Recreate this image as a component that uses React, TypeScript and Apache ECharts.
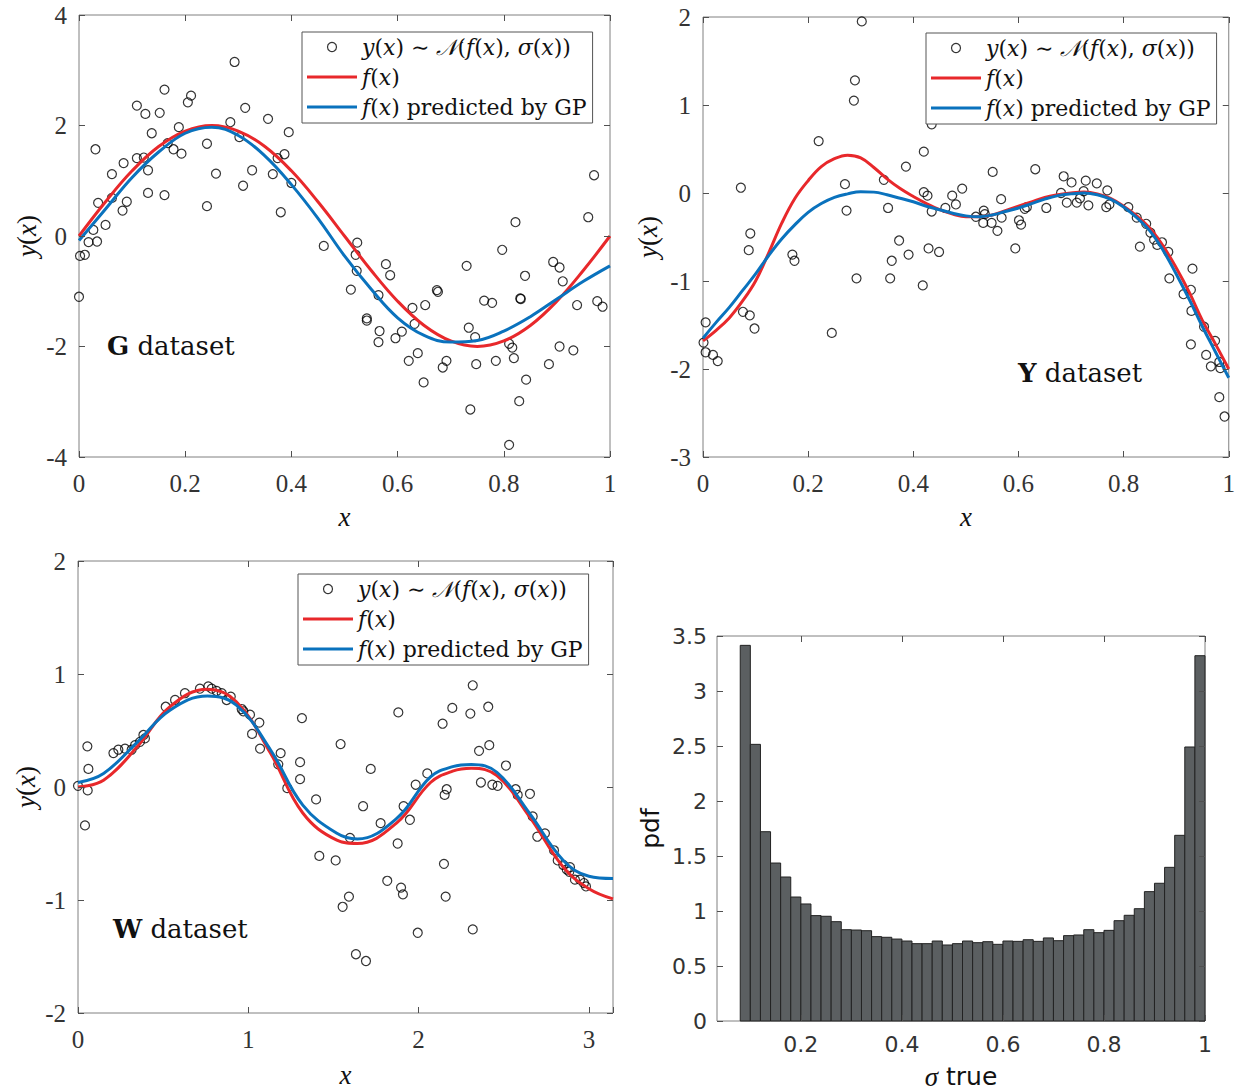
import React, { useEffect, useRef } from "react";
import * as echarts from "echarts";

// ---------------- G dataset ----------------
const G_X = [0.002, 0.011, 0.018, 0.034, 0.027, 0.05, 0.036, 0.031, 0.062, 0.082, 0.09, 0.062, 0.084, 0.109, 0.122, 0.13, 0.13, 0.161, 0.137, 0.109, 0.125, 0.152, 0.161, 0.167, 0.178, 0.193, 0.188, 0.205, 0.211, 0.241, 0.241, 0.258, 0.293, 0.285, 0.302, 0.309, 0.326, 0.313, 0.356, 0.365, 0.374, 0.387, 0.395, 0.38, 0.4, 0.461, 0.0,
  0.524, 0.521, 0.523, 0.512, 0.564, 0.578, 0.586, 0.542, 0.542, 0.566, 0.564, 0.596, 0.608, 0.628, 0.652, 0.632, 0.621, 0.638, 0.649, 0.674, 0.676, 0.685, 0.692, 0.73, 0.734, 0.746, 0.748, 0.737, 0.763, 0.778, 0.785, 0.797, 0.822, 0.81, 0.816, 0.819, 0.81, 0.831, 0.832, 0.84, 0.842, 0.829, 0.893, 0.905, 0.911, 0.885, 0.905, 0.931, 0.938, 0.959, 0.976, 0.986, 0.97];
const G_Y = [-0.36, -0.34, -0.11, -0.1, 0.11, 0.2, 0.6, 1.57, 0.69, 0.46, 0.62, 1.12, 1.32, 1.41, 1.42, 1.19, 0.78, 0.74, 1.86, 2.36, 2.21, 2.23, 2.65, 1.68, 1.57, 1.49, 1.97, 2.42, 2.54, 1.67, 0.54, 1.13, 3.15, 2.06, 1.79, 0.91, 1.19, 2.32, 2.12, 1.12, 1.41, 1.48, 1.88, 0.43, 0.96, -0.18, -1.1,
  -0.12, -0.34, -0.63, -0.97, -1.07, -0.51, -0.71, -1.49, -1.53, -1.72, -1.92, -1.85, -1.73, -1.3, -1.25, -1.59, -2.26, -2.12, -2.65, -0.98, -1.01, -2.38, -2.26, -0.54, -1.66, -1.83, -2.32, -3.14, -1.17, -1.21, -2.26, -0.25, 0.25, -1.95, -2.02, -2.21, -3.78, -1.13, -1.14, -0.72, -2.6, -2.99, -0.47, -0.57, -0.82, -2.32, -2.0, -2.07, -1.25, 0.34, -1.18, -1.28, 1.1];
const G_CURVE_X = [0, 0.05, 0.1, 0.15, 0.2, 0.25, 0.3, 0.35, 0.4, 0.45, 0.5, 0.55, 0.6, 0.65, 0.7, 0.75, 0.8, 0.85, 0.9, 0.95, 1.0];
const G_TRUE = [0, 0.62, 1.18, 1.62, 1.9, 2.0, 1.9, 1.62, 1.18, 0.62, 0, -0.62, -1.18, -1.62, -1.9, -2.0, -1.9, -1.62, -1.18, -0.62, 0];
const G_GP = [-0.08, 0.49, 1.06, 1.52, 1.86, 1.97, 1.82, 1.45, 0.93, 0.32, -0.36, -0.96, -1.48, -1.8, -1.92, -1.89, -1.72, -1.46, -1.14, -0.82, -0.54];

// ---------------- Y dataset ----------------
const Y_X = [0.001, 0.005, 0.005, 0.019, 0.028, 0.072, 0.09, 0.087, 0.076, 0.089, 0.098, 0.17, 0.174, 0.22, 0.245, 0.27, 0.273, 0.289, 0.287, 0.302, 0.292, 0.344, 0.352, 0.373, 0.359, 0.356, 0.391, 0.386, 0.42, 0.418, 0.429, 0.449, 0.42, 0.427, 0.435, 0.461, 0.474, 0.481, 0.493, 0.435,
  0.519, 0.534, 0.536, 0.533, 0.549, 0.56, 0.551, 0.567, 0.568, 0.594, 0.601, 0.605, 0.612, 0.616, 0.632, 0.653, 0.686, 0.701, 0.692, 0.681, 0.711, 0.717, 0.724, 0.728, 0.733, 0.749, 0.769, 0.767, 0.773, 0.809, 0.825, 0.843, 0.831, 0.851, 0.858, 0.864, 0.873, 0.885, 0.887, 0.931, 0.914, 0.928, 0.929, 0.953, 0.974, 0.928, 0.957, 0.966, 0.984, 0.982, 0.992, 0.982];
const Y_Y = [-1.7, -1.47, -1.81, -1.84, -1.91, 0.06, -0.46, -0.65, -1.35, -1.39, -1.54, -0.7, -0.77, 0.59, -1.59, 0.1, -0.2, 1.28, 1.05, 1.95, -0.97, 0.15, -0.17, -0.54, -0.77, -0.97, -0.7, 0.3, 0.47, -1.05, -0.63, -0.67, 0.01, -0.03, -0.21, -0.17, -0.03, -0.13, 0.05, 0.78,
  -0.27, -0.2, -0.24, -0.34, -0.34, -0.43, 0.24, -0.07, -0.28, -0.63, -0.31, -0.36, -0.18, -0.16, 0.27, -0.17, 0.19, 0.12, -0.11, 0.0, -0.11, -0.06, 0.02, 0.14, -0.14, 0.11, 0.03, -0.16, -0.13, -0.16, -0.28, -0.35, -0.61, -0.45, -0.53, -0.59, -0.56, -0.67, -0.97, -0.86, -1.15, -1.1, -1.34, -1.52, -1.68, -1.72, -1.84, -1.97, -1.99, -2.32, -2.54, -1.92];
const Y_CURVE_X = [0, 0.025, 0.05, 0.075, 0.1, 0.125, 0.15, 0.175, 0.2, 0.225, 0.25, 0.275, 0.3, 0.325, 0.35, 0.375, 0.4, 0.425, 0.45, 0.475, 0.5, 0.525, 0.55, 0.575, 0.6, 0.625, 0.65, 0.675, 0.7, 0.725, 0.75, 0.775, 0.8, 0.825, 0.85, 0.875, 0.9, 0.925, 0.95, 0.975, 1.0];
const Y_TRUE = [-1.68, -1.56, -1.42, -1.23, -1.0, -0.68, -0.34, -0.06, 0.14, 0.3, 0.39, 0.43, 0.4, 0.29, 0.16, 0.05, -0.04, -0.12, -0.19, -0.24, -0.27, -0.27, -0.25, -0.2, -0.15, -0.1, -0.05, -0.02, 0.0, 0.01, -0.01, -0.06, -0.15, -0.26, -0.4, -0.6, -0.85, -1.13, -1.45, -1.72, -2.0];
const Y_GP = [-1.65, -1.47, -1.3, -1.11, -0.92, -0.71, -0.52, -0.36, -0.22, -0.12, -0.05, -0.01, 0.015, 0.01, -0.02, -0.06, -0.1, -0.15, -0.19, -0.23, -0.26, -0.27, -0.25, -0.21, -0.17, -0.12, -0.07, -0.03, -0.01, 0.0, -0.02, -0.07, -0.16, -0.28, -0.43, -0.65, -0.92, -1.21, -1.52, -1.81, -2.1];

// ---------------- W dataset ----------------
const W_X = [0.0, 0.055, 0.061, 0.057, 0.041, 0.208, 0.237, 0.276, 0.315, 0.335, 0.364, 0.384, 0.393, 0.515, 0.57, 0.628, 0.716, 0.765, 0.785, 0.814, 0.844, 0.873, 0.897, 0.961, 0.971, 1.01, 1.065, 1.022, 1.069, 1.19, 1.176, 1.229, 1.304, 1.304, 1.315, 1.398, 1.542, 1.417, 1.513,
  1.591, 1.554, 1.632, 1.597, 1.691, 1.674, 1.719, 1.777, 1.816, 1.881, 1.877, 1.897, 1.908, 1.912, 1.949, 1.983, 1.995, 2.051, 2.141, 2.198, 2.149, 2.159, 2.165, 2.153, 2.304, 2.318, 2.409, 2.355, 2.415, 2.318, 2.366, 2.433, 2.464, 2.513, 2.57, 2.582, 2.654, 2.67, 2.697, 2.742, 2.795, 2.817, 2.85, 2.87, 2.885, 2.918, 2.948, 2.971, 2.983, 2.889];
const W_Y = [0.01, 0.36, 0.16, -0.03, -0.34, 0.3, 0.33, 0.34, 0.33, 0.37, 0.4, 0.46, 0.43, 0.71, 0.77, 0.83, 0.87, 0.89, 0.87, 0.85, 0.83, 0.77, 0.8, 0.69, 0.67, 0.64, 0.57, 0.47, 0.34, 0.3, 0.2, -0.01, 0.22, 0.07, 0.61, -0.11, 0.38, -0.61, -0.65,
  -0.97, -1.06, -1.48, -0.45, -1.54, -0.17, 0.16, -0.32, -0.83, 0.66, -0.5, -0.89, -0.95, -0.17, -0.29, 0.02, -1.29, 0.12, 0.56, 0.7, -0.68, -0.97, -0.02, -0.07, 0.65, 0.9, 0.71, 0.32, 0.37, -1.26, 0.04, 0.02, 0.01, 0.19, -0.02, -0.07, -0.06, -0.26, -0.44, -0.41, -0.56, -0.65, -0.69, -0.73, -0.75, -0.82, -0.82, -0.85, -0.88, -0.71];
const W_CURVE_X = [0, 0.15, 0.35, 0.54, 0.76, 0.93, 1.13, 1.32, 1.52, 1.64, 1.87, 2.07, 2.2, 2.31, 2.46, 2.65, 2.85, 3.0, 3.1416];
const W_TRUE = [0.0, 0.06, 0.36, 0.71, 0.865, 0.755, 0.3, -0.23, -0.47, -0.5, -0.32, 0.04, 0.14, 0.165, 0.1, -0.26, -0.71, -0.9, -0.99];
const W_GP = [0.04, 0.12, 0.4, 0.68, 0.805, 0.725, 0.33, -0.16, -0.41, -0.46, -0.28, 0.09, 0.18, 0.2, 0.13, -0.23, -0.65, -0.79, -0.81];

// ---------------- histogram of sigma ----------------
const HIST_CENTERS = [0.09, 0.11, 0.13, 0.15, 0.17, 0.19, 0.21, 0.23, 0.25, 0.27, 0.29, 0.31, 0.33, 0.35, 0.37, 0.39, 0.41, 0.43, 0.45, 0.47, 0.49, 0.51, 0.53, 0.55, 0.57, 0.59, 0.61, 0.63, 0.65, 0.67, 0.69, 0.71, 0.73, 0.75, 0.77, 0.79, 0.81, 0.83, 0.85, 0.87, 0.89, 0.91, 0.93, 0.95, 0.97, 0.99];
const HIST_PDF = [3.415, 2.515, 1.721, 1.436, 1.309, 1.127, 1.064, 0.958, 0.952, 0.903, 0.83, 0.827, 0.821, 0.767, 0.761, 0.745, 0.727, 0.703, 0.703, 0.727, 0.691, 0.703, 0.727, 0.712, 0.721, 0.697, 0.727, 0.724, 0.739, 0.724, 0.755, 0.73, 0.776, 0.782, 0.83, 0.803, 0.824, 0.912, 0.961, 1.021, 1.176, 1.252, 1.397, 1.688, 2.491, 3.321];
const HIST_BIN = 0.02;
const HIST_TICKS = [0.2, 0.4, 0.6, 0.8, 1];

const SC = "y(x) ∼ 𝒩(f(x), σ(x))";
const FX = "f(x)";
const GP = "f(x) predicted by GP";

const SERIF = '"Liberation Serif", "DejaVu Serif", serif';
const DSERIF = '"DejaVu Serif", "Liberation Serif", serif';
const SANS = '"DejaVu Sans", "Liberation Sans", sans-serif';
const AXIS = "#808080";
const TICK = "#505050";
const LBL = "#333333";
const TXT = "#111111";
const RED = "#e8282b";
const BLUE = "#0a72bd";

const mathRich = (size: number, fam: string) => ({
  i: { fontFamily: fam, fontStyle: "italic", fontSize: size, color: TXT },
  r: { fontFamily: fam, fontSize: size, color: TXT },
  c: { fontFamily: DSERIF, fontStyle: "italic", fontSize: size, color: TXT },
  b: { fontFamily: fam, fontWeight: "bold", fontSize: size, color: TXT },
});

const LEG_TEXT: Record<string, string> = {
  [SC]: "{i|y}{r|(}{i|x}{r|) ∼ }{c|𝒩}{r|(}{i|f}{r|(}{i|x}{r|), }{i|σ}{r|(}{i|x}{r|))}",
  [FX]: "{i|f}{r|(}{i|x}{r|)}",
  [GP]: "{i|f}{r|(}{i|x}{r|) predicted by GP}",
};

const zip = (xs: number[], ys: number[]) => xs.map((x, i) => [x, ys[i]]);

const tickStyle = { show: true, inside: true, length: 6, lineStyle: { color: TICK, width: 1 } };

function axisPair(kind: "x" | "y", grid: number, cfg: any) {
  const main: any = {
    type: "value",
    gridIndex: grid,
    position: kind === "x" ? "bottom" : "left",
    min: cfg.min,
    max: cfg.max,
    interval: cfg.interval,
    axisLine: { show: false, onZero: false },
    splitLine: { show: false },
    axisTick: { ...tickStyle, ...(cfg.custom ? { customValues: cfg.custom } : {}) },
    axisLabel: {
      margin: cfg.margin,
      color: LBL,
      fontFamily: cfg.font,
      fontSize: cfg.fontSize,
      ...(cfg.custom ? { customValues: cfg.custom } : {}),
      ...(cfg.formatter ? { formatter: cfg.formatter } : {}),
    },
    name: cfg.name,
    nameLocation: "middle",
    nameGap: cfg.nameGap,
    nameTextStyle: cfg.nameStyle,
    z: 5,
  };
  const twin: any = {
    type: "value",
    gridIndex: grid,
    position: kind === "x" ? "top" : "right",
    min: cfg.min,
    max: cfg.max,
    interval: cfg.interval,
    axisLine: { show: false, onZero: false },
    splitLine: { show: false },
    axisTick: { ...tickStyle, ...(cfg.custom ? { customValues: cfg.custom } : {}) },
    axisLabel: { show: false },
    z: 5,
  };
  return [main, twin];
}

const intFmt = (v: number) => (Math.abs(v - Math.round(v)) < 1e-9 ? String(Math.round(v)) : "");

function buildOption(): any {
  const serifTick = { font: SERIF, fontSize: 25 };
  const xName = { name: "{i|x}", nameStyle: { rich: mathRich(27, SERIF) } };
  const yName = { name: "{i|y}{r|(}{i|x}{r|)}", nameStyle: { rich: mathRich(27, SERIF) } };

  const xAxis = [
    ...axisPair("x", 0, { min: 0, max: 1, interval: 0.2, margin: 14, ...serifTick, ...xName, nameGap: 46 }),
    ...axisPair("x", 1, { min: 0, max: 1, interval: 0.2, margin: 14, ...serifTick, ...xName, nameGap: 46 }),
    ...axisPair("x", 2, { min: 0, max: 3.1416, interval: 1, margin: 14, formatter: intFmt, ...serifTick, ...xName, nameGap: 48 }),
    ...axisPair("x", 3, {
      min: 0.034, max: 1, custom: HIST_TICKS, margin: 12, font: SANS, fontSize: 22,
      name: "{s|σ}{t| true}", nameGap: 42,
      nameStyle: { rich: { s: { fontFamily: SERIF, fontStyle: "italic", fontSize: 27, color: TXT }, t: { fontFamily: SANS, fontSize: 25, color: TXT } } },
    }),
  ];
  const yAxis = [
    ...axisPair("y", 0, { min: -4, max: 4, interval: 2, margin: 12, ...serifTick, ...yName, nameGap: 39 }),
    ...axisPair("y", 1, { min: -3, max: 2, interval: 1, margin: 12, ...serifTick, ...yName, nameGap: 42 }),
    ...axisPair("y", 2, { min: -2, max: 2, interval: 1, margin: 12, ...serifTick, ...yName, nameGap: 39 }),
    ...axisPair("y", 3, {
      min: 0, max: 3.5, interval: 0.5, margin: 10, font: SANS, fontSize: 22,
      name: "pdf", nameGap: 54, nameStyle: { fontFamily: SANS, fontSize: 25, color: TXT },
    }),
  ];

  const grid = [
    { left: 79, top: 15, width: 531, height: 442 },
    { left: 703, top: 17, width: 529, height: 440 },
    { left: 78, top: 561, width: 535, height: 452 },
    { left: 717, top: 636, width: 488, height: 385 },
  ].map((g) => ({ ...g, show: true, borderColor: AXIS, borderWidth: 1, backgroundColor: "transparent" }));

  const panels = [
    { pts: zip(G_X, G_Y), tru: zip(G_CURVE_X, G_TRUE), gp: zip(G_CURVE_X, G_GP) },
    { pts: zip(Y_X, Y_Y), tru: zip(Y_CURVE_X, Y_TRUE), gp: zip(Y_CURVE_X, Y_GP) },
    { pts: zip(W_X, W_Y), tru: zip(W_CURVE_X, W_TRUE), gp: zip(W_CURVE_X, W_GP) },
  ];

  const series: any[] = [];
  panels.forEach((p, k) => {
    const ax = { xAxisIndex: 2 * k, yAxisIndex: 2 * k };
    series.push({
      type: "scatter", name: SC, ...ax, data: p.pts, symbol: "circle", symbolSize: 9, z: 2, silent: true,
      itemStyle: { color: "rgba(0,0,0,0)", borderColor: "#000", borderWidth: 1.2 },
    });
    series.push({
      type: "line", name: FX, ...ax, data: p.tru, symbol: "none", smooth: 0.4, z: 3, silent: true,
      lineStyle: { color: RED, width: 3 }, itemStyle: { color: RED },
    });
    series.push({
      type: "line", name: GP, ...ax, data: p.gp, symbol: "none", smooth: 0.4, z: 4, silent: true,
      lineStyle: { color: BLUE, width: 3 }, itemStyle: { color: BLUE },
    });
  });

  series.push({
    type: "custom",
    xAxisIndex: 6,
    yAxisIndex: 6,
    silent: true,
    z: 2,
    data: zip(HIST_CENTERS, HIST_PDF),
    encode: { x: 0, y: 1 },
    renderItem: (_params: any, api: any) => {
      const c = api.value(0);
      const h = api.value(1);
      const a = api.coord([c - HIST_BIN / 2, h]);
      const b = api.coord([c + HIST_BIN / 2, 0]);
      return {
        type: "rect",
        shape: { x: a[0], y: a[1], width: b[0] - a[0], height: b[1] - a[1] },
        style: { fill: "#5b5f61", stroke: "#222222", lineWidth: 1 },
      };
    },
  });

  const lineIcon = "path://M0,0L50,0L50,3L0,3Z";
  const legendBase = (left: number, top: number) => ({
    orient: "vertical",
    left,
    top,
    padding: [2, 6, 3, 5],
    itemWidth: 50,
    itemHeight: 9,
    itemGap: 4,
    backgroundColor: "#ffffff",
    borderColor: "#555555",
    borderWidth: 1,
    borderRadius: 0,
    selectedMode: false,
    z: 10,
    data: [
      { name: SC, icon: "circle", itemStyle: { color: "rgba(0,0,0,0)", borderColor: "#000", borderWidth: 1.2 } },
      { name: FX, icon: lineIcon, itemStyle: { color: RED, borderWidth: 0 } },
      { name: GP, icon: lineIcon, itemStyle: { color: BLUE, borderWidth: 0 } },
    ],
    formatter: (name: string) => LEG_TEXT[name],
    textStyle: { fontFamily: DSERIF, fontSize: 22, color: TXT, lineHeight: 26, rich: mathRich(22, DSERIF) },
  });

  const dsLabel = (x: number, y: number, letter: string) => ({
    type: "text",
    x,
    y,
    z: 20,
    silent: true,
    style: {
      text: `{b|${letter}} {r|dataset}`,
      rich: mathRich(26, DSERIF),
      fontFamily: DSERIF,
      fontSize: 26,
      fill: TXT,
      verticalAlign: "middle",
      align: "left",
    },
  });

  return {
    animation: false,
    backgroundColor: "#ffffff",
    grid,
    xAxis,
    yAxis,
    series,
    legend: [legendBase(302, 32), legendBase(926, 33), legendBase(298, 574)],
    graphic: [dsLabel(107, 346, "G"), dsLabel(1018, 373, "Y"), dsLabel(113, 929, "W")],
  };
}

export default function App() {
  const ref = useRef<HTMLDivElement>(null);
  useEffect(() => {
    const chart = echarts.init(ref.current as HTMLDivElement, null, { renderer: "svg" });
    chart.setOption(buildOption());
    return () => chart.dispose();
  }, []);
  return (
    <div
      ref={ref}
      style={{ position: "absolute", left: 0, top: 0, width: 1238, height: 1092, background: "#fff" }}
    />
  );
}
